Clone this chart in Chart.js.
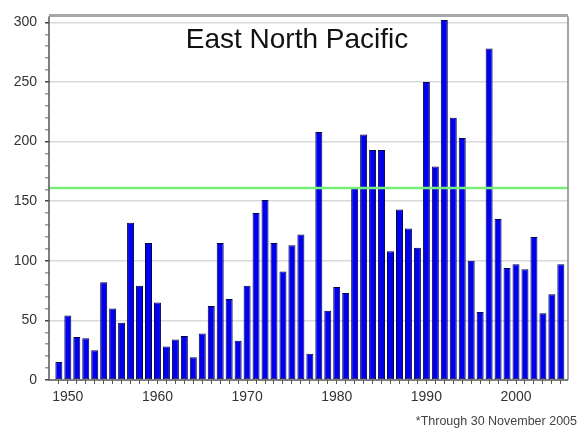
<!DOCTYPE html>
<html>
<head>
<meta charset="utf-8">
<script src="https://cdn.jsdelivr.net/npm/chart.js@4.4.1/dist/chart.umd.min.js"></script>
<style>
  html, body { margin: 0; padding: 0; background: #fff; }
  #wrap { width: 578px; height: 428px; position: relative; }
</style>
</head>
<body>
<div id="wrap"><canvas id="c" width="578" height="428"></canvas></div>
<script>
// ---- data ----
const years = [];
for (let y = 1949; y <= 2005; y++) years.push(y);
const aceValues = [
  15, 54, 36, 35, 25, 82, 60, 48, 132, 79,
  115, 65, 28, 34, 37, 19, 39, 62, 115, 68,
  33, 79, 140, 151, 115, 91, 113, 122, 22, 208,
  58, 78, 73, 161, 206, 193, 193, 108, 143, 127,
  111, 250, 179, 302, 220, 203, 100, 57, 278, 135,
  94, 97, 93, 120, 56, 72, 97
];
const referenceValue = 161;
const yTickLabels = [0, 50, 100, 150, 200, 250, 300];
const xTickLabels = [1950, 1960, 1970, 1980, 1990, 2000];
const titleText = 'East North Pacific';
const footnoteText = '*Through 30 November 2005';

const X_MIN = 1947.9, X_MAX = 2005.8;

const framePlugin = {
  id: 'frame',
  afterDraw(chart) {
    const { ctx, chartArea: a } = chart;
    ctx.save();
    ctx.strokeStyle = '#a8a8a8';
    ctx.lineWidth = 3;
    ctx.beginPath();
    ctx.moveTo(a.left, a.top - 1);
    ctx.lineTo(a.right, a.top - 1);
    ctx.stroke();
    ctx.lineWidth = 1.5;
    ctx.strokeStyle = '#888';
    ctx.beginPath();
    ctx.moveTo(a.right, a.top);
    ctx.lineTo(a.right, a.bottom);
    ctx.stroke();
    ctx.strokeStyle = '#555';
    ctx.beginPath();
    ctx.moveTo(a.left, a.top);
    ctx.lineTo(a.left, a.bottom);
    ctx.lineTo(a.right, a.bottom);
    ctx.stroke();
    ctx.fillStyle = '#111';
    ctx.font = '28px "Liberation Sans", Arial, sans-serif';
    ctx.textAlign = 'center';
    ctx.textBaseline = 'alphabetic';
    ctx.fillText(titleText, 297, 48);
    ctx.fillStyle = '#444';
    ctx.font = '12.5px "Liberation Sans", Arial, sans-serif';
    ctx.textAlign = 'right';
    ctx.fillText(footnoteText, 577, 425);
    ctx.restore();
  }
};

new Chart(document.getElementById('c'), {
  type: 'bar',
  data: {
    datasets: [
      {
        type: 'line',
        data: [{ x: X_MIN, y: referenceValue }, { x: X_MAX, y: referenceValue }],
        borderColor: '#77ee77',
        borderWidth: 2.5,
        pointRadius: 0,
        order: 0
      },
      {
        type: 'bar',
        data: years.map((y, i) => ({ x: y, y: aceValues[i] })),
        backgroundColor: '#0000ee',
        borderColor: '#000044',
        borderWidth: 1,
        borderSkipped: false,
        barPercentage: 0.78,
        categoryPercentage: 1.0,
        order: 1
      }
    ]
  },
  options: {
    responsive: false,
    animation: false,
    plugins: { legend: { display: false }, tooltip: { enabled: false } },
    layout: { padding: { top: 14, right: 10, left: 0, bottom: 0 } },
    scales: {
      x: {
        type: 'linear',
        offset: false,
        min: X_MIN,
        max: X_MAX,
        afterBuildTicks(scale) { scale.ticks = years.map(v => ({ value: v })); },
        afterFit(scale) { scale.height = 48; },
        border: { display: false },
        grid: { drawOnChartArea: false, offset: false, tickLength: 4, tickColor: '#555' },
        ticks: {
          autoSkip: false,
          maxRotation: 0,
          padding: 5,
          color: '#333',
          font: { size: 14, family: '"Liberation Sans", Arial, sans-serif' },
          callback: v => xTickLabels.includes(v) ? String(v) : ''
        }
      },
      y: {
        min: 0,
        max: 305,
        afterBuildTicks(scale) {
          const t = [];
          for (let v = 0; v <= 300; v += 10) t.push({ value: v });
          scale.ticks = t;
        },
        afterFit(scale) { scale.width = 49; },
        border: { display: false },
        grid: {
          color: ctx => (ctx.tick && ctx.tick.value % 50 === 0 && ctx.tick.value > 0) ? '#d9d9d9' : 'rgba(0,0,0,0)',
          lineWidth: 1.5,
          tickLength: 4,
          tickColor: ctx => (ctx.tick && ctx.tick.value % 50 === 0) ? '#444' : '#999'
        },
        ticks: {
          autoSkip: false,
          padding: 8,
          color: '#333',
          font: { size: 14, family: '"Liberation Sans", Arial, sans-serif' },
          callback: v => yTickLabels.includes(v) ? String(v) : ''
        }
      }
    }
  },
  plugins: [framePlugin]
});
</script>
</body>
</html>
